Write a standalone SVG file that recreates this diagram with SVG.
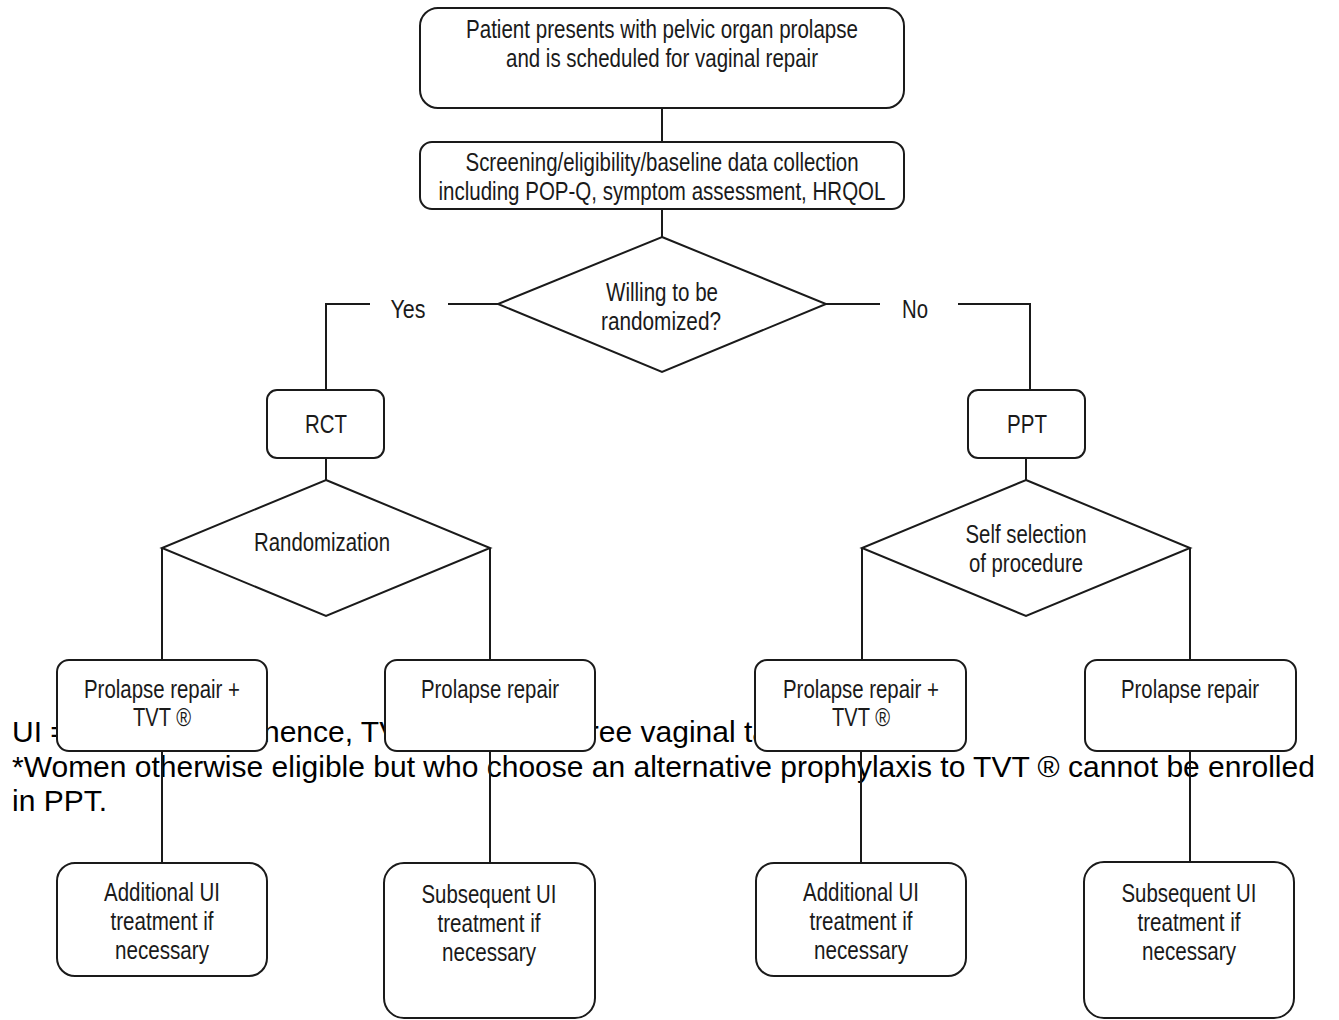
<svg xmlns="http://www.w3.org/2000/svg" width="1339" height="1020" viewBox="0 0 1339 1020">
<style>
.bg{fill:#ffffff}
.box{fill:#ffffff;stroke:#1a1a1a;stroke-width:2}
.edge{fill:none;stroke:#1a1a1a;stroke-width:2}
.t{font-family:"Liberation Sans Narrow","Arial Narrow","Liberation Sans",Arial,sans-serif;font-size:25px;fill:#1a1a1a;text-anchor:middle}
.note{font-family:"Liberation Sans",Arial,sans-serif;font-size:30px;fill:#000000}
</style>
<rect class="bg" x="0" y="0" width="1339" height="1020"/>
<g id="footnote">
<text class="note" x="12" y="742">UI = urinary incontinence, TVT® = tension-free vaginal tape</text>
<text class="note" x="12" y="777">*Women otherwise eligible but who choose an alternative prophylaxis to TVT ® cannot be enrolled</text>
<text class="note" x="12" y="811">in PPT.</text>
</g>
<g id="connectors">
<line class="edge" x1="662" y1="108" x2="662" y2="142"/>
<line class="edge" x1="662" y1="209" x2="662" y2="237"/>
<line class="edge" x1="498" y1="304" x2="448" y2="304"/>
<polyline class="edge" points="370,304 326,304 326,390"/>
<line class="edge" x1="826" y1="304" x2="880" y2="304"/>
<polyline class="edge" points="958,304 1030,304 1030,390"/>
<line class="edge" x1="326" y1="458" x2="326" y2="480"/>
<line class="edge" x1="1026" y1="458" x2="1026" y2="480"/>
<line class="edge" x1="162" y1="548" x2="162" y2="660"/>
<line class="edge" x1="490" y1="548" x2="490" y2="660"/>
<line class="edge" x1="862" y1="548" x2="862" y2="660"/>
<line class="edge" x1="1190" y1="548" x2="1190" y2="660"/>
<line class="edge" x1="162" y1="751" x2="162" y2="863"/>
<line class="edge" x1="490" y1="751" x2="490" y2="863"/>
<line class="edge" x1="861" y1="751" x2="861" y2="863"/>
<line class="edge" x1="1190" y1="751" x2="1190" y2="862"/>
<text class="t" x="408" y="318" textLength="35" lengthAdjust="spacingAndGlyphs">Yes</text>
<text class="t" x="915" y="318" textLength="26" lengthAdjust="spacingAndGlyphs">No</text>
</g>
<g id="start">
<rect class="box" x="420" y="8" width="484" height="100" rx="18"/>
<text class="t" x="662" y="38" textLength="392" lengthAdjust="spacingAndGlyphs">Patient presents with pelvic organ prolapse</text>
<text class="t" x="662" y="67" textLength="312" lengthAdjust="spacingAndGlyphs">and is scheduled for vaginal repair</text>
</g>
<g id="screening">
<rect class="box" x="420" y="142" width="484" height="67" rx="12"/>
<text class="t" x="662" y="171" textLength="393" lengthAdjust="spacingAndGlyphs">Screening/eligibility/baseline data collection</text>
<text class="t" x="662" y="200" textLength="447" lengthAdjust="spacingAndGlyphs">including POP-Q, symptom assessment, HRQOL</text>
</g>
<g id="willing">
<polygon class="box" points="662,237 826,304 662,372 498,304"/>
<text class="t" x="662" y="301" textLength="112" lengthAdjust="spacingAndGlyphs">Willing to be</text>
<text class="t" x="661" y="330" textLength="120" lengthAdjust="spacingAndGlyphs">randomized?</text>
</g>
<g id="rct">
<rect class="box" x="267" y="390" width="117" height="68" rx="10"/>
<text class="t" x="326" y="433" textLength="42" lengthAdjust="spacingAndGlyphs">RCT</text>
</g>
<g id="ppt">
<rect class="box" x="968" y="390" width="117" height="68" rx="10"/>
<text class="t" x="1027" y="433" textLength="40" lengthAdjust="spacingAndGlyphs">PPT</text>
</g>
<g id="randomization">
<polygon class="box" points="326,480 490,548 326,616 162,548"/>
<text class="t" x="322" y="551" textLength="136" lengthAdjust="spacingAndGlyphs">Randomization</text>
</g>
<g id="selfselection">
<polygon class="box" points="1026,480 1190,548 1026,616 862,548"/>
<text class="t" x="1026" y="543" textLength="121" lengthAdjust="spacingAndGlyphs">Self selection</text>
<text class="t" x="1026" y="572" textLength="114" lengthAdjust="spacingAndGlyphs">of procedure</text>
</g>
<g id="rct-tvt">
<rect class="box" x="57" y="660" width="210" height="91" rx="12"/>
<text class="t" x="162" y="698" textLength="156" lengthAdjust="spacingAndGlyphs">Prolapse repair +</text>
<text class="t" x="162" y="726" textLength="58" lengthAdjust="spacingAndGlyphs">TVT ®</text>
</g>
<g id="rct-repair">
<rect class="box" x="385" y="660" width="210" height="91" rx="12"/>
<text class="t" x="490" y="698" textLength="138" lengthAdjust="spacingAndGlyphs">Prolapse repair</text>
</g>
<g id="ppt-tvt">
<rect class="box" x="755" y="660" width="211" height="91" rx="12"/>
<text class="t" x="861" y="698" textLength="156" lengthAdjust="spacingAndGlyphs">Prolapse repair +</text>
<text class="t" x="861" y="726" textLength="58" lengthAdjust="spacingAndGlyphs">TVT ®</text>
</g>
<g id="ppt-repair">
<rect class="box" x="1085" y="660" width="211" height="91" rx="12"/>
<text class="t" x="1190" y="698" textLength="138" lengthAdjust="spacingAndGlyphs">Prolapse repair</text>
</g>
<g id="rct-additional">
<rect class="box" x="57" y="863" width="210" height="113" rx="18"/>
<text class="t" x="162" y="901" textLength="116" lengthAdjust="spacingAndGlyphs">Additional UI</text>
<text class="t" x="162" y="930" textLength="103" lengthAdjust="spacingAndGlyphs">treatment if</text>
<text class="t" x="162" y="959" textLength="94" lengthAdjust="spacingAndGlyphs">necessary</text>
</g>
<g id="rct-subsequent">
<rect class="box" x="384" y="863" width="211" height="155" rx="20"/>
<text class="t" x="489" y="903" textLength="135" lengthAdjust="spacingAndGlyphs">Subsequent UI</text>
<text class="t" x="489" y="932" textLength="103" lengthAdjust="spacingAndGlyphs">treatment if</text>
<text class="t" x="489" y="961" textLength="94" lengthAdjust="spacingAndGlyphs">necessary</text>
</g>
<g id="ppt-additional">
<rect class="box" x="756" y="863" width="210" height="113" rx="18"/>
<text class="t" x="861" y="901" textLength="116" lengthAdjust="spacingAndGlyphs">Additional UI</text>
<text class="t" x="861" y="930" textLength="103" lengthAdjust="spacingAndGlyphs">treatment if</text>
<text class="t" x="861" y="959" textLength="94" lengthAdjust="spacingAndGlyphs">necessary</text>
</g>
<g id="ppt-subsequent">
<rect class="box" x="1084" y="862" width="210" height="156" rx="20"/>
<text class="t" x="1189" y="902" textLength="135" lengthAdjust="spacingAndGlyphs">Subsequent UI</text>
<text class="t" x="1189" y="931" textLength="103" lengthAdjust="spacingAndGlyphs">treatment if</text>
<text class="t" x="1189" y="960" textLength="94" lengthAdjust="spacingAndGlyphs">necessary</text>
</g>
</svg>
